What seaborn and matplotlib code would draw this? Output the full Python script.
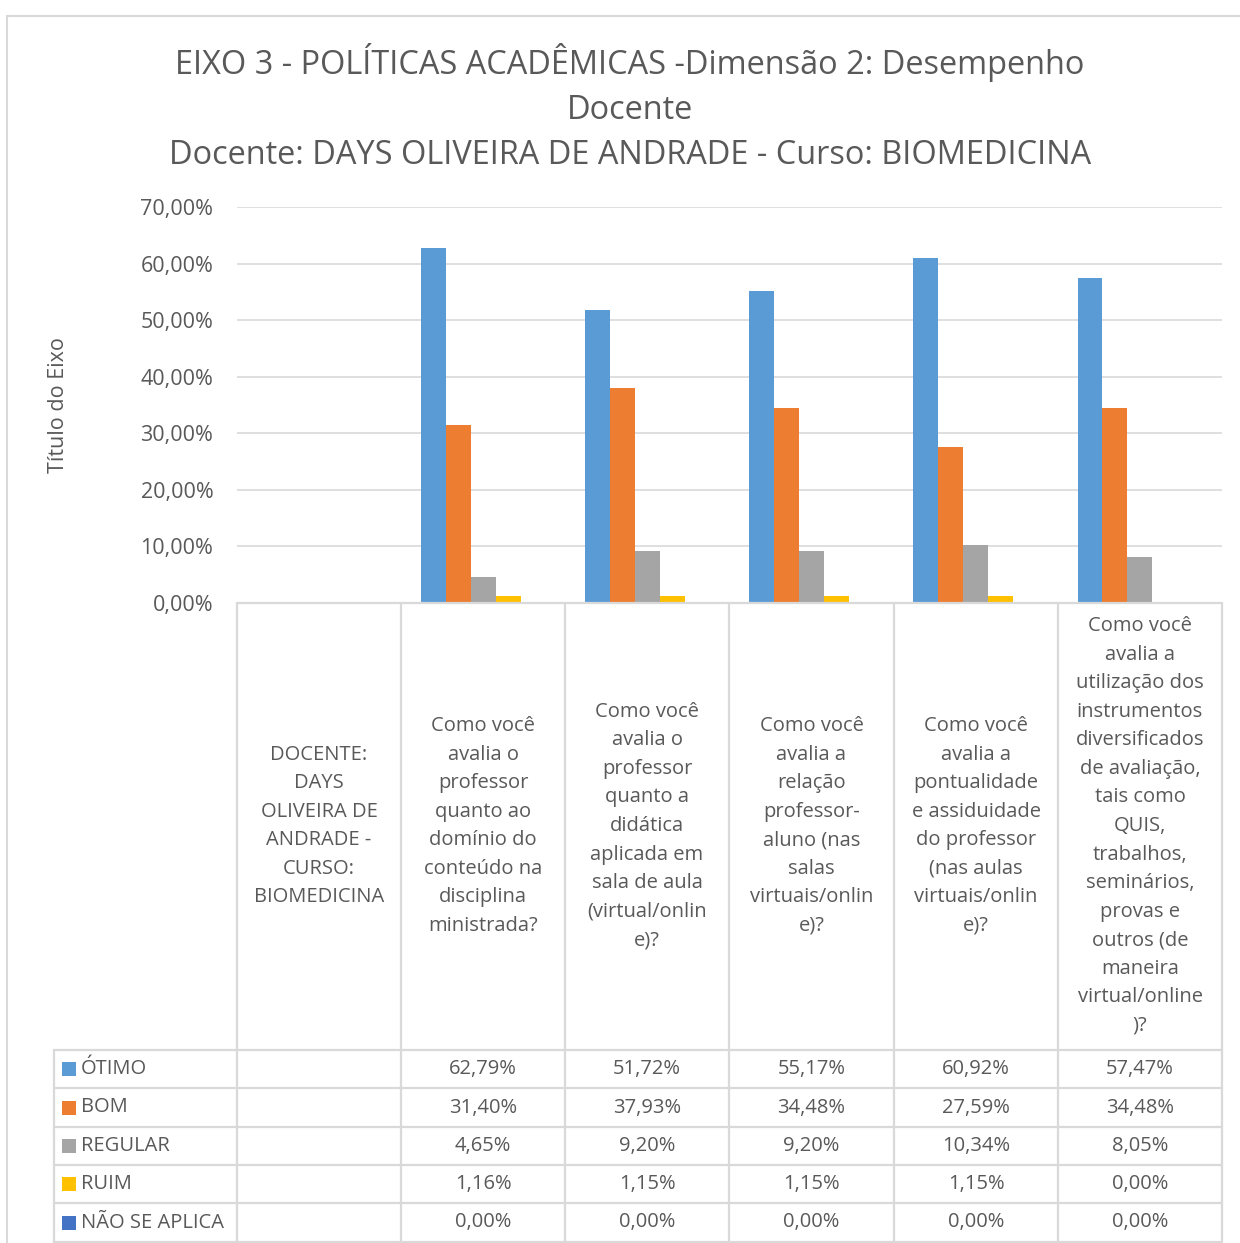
import numpy as np
import pandas as pd
import matplotlib
matplotlib.use("Agg")
import matplotlib.pyplot as plt
from matplotlib.lines import Line2D
from matplotlib.patches import Rectangle
import seaborn as sns

# ---------------- data ----------------
categories = [
    "DOCENTE:\nDAYS\nOLIVEIRA DE\nANDRADE -\nCURSO:\nBIOMEDICINA",
    "Como você\navalia o\nprofessor\nquanto ao\ndomínio do\nconteúdo na\ndisciplina\nministrada?",
    "Como você\navalia o\nprofessor\nquanto a\ndidática\naplicada em\nsala de aula\n(virtual/onlin\ne)?",
    "Como você\navalia a\nrelação\nprofessor-\naluno (nas\nsalas\nvirtuais/onlin\ne)?",
    "Como você\navalia a\npontualidade\ne assiduidade\ndo professor\n(nas aulas\nvirtuais/onlin\ne)?",
    "Como você\navalia a\nutilização dos\ninstrumentos\ndiversificados\nde avaliação,\ntais como\nQUIS,\ntrabalhos,\nseminários,\nprovas e\noutros (de\nmaneira\nvirtual/online\n)?",
]
series = ["ÓTIMO", "BOM", "REGULAR", "RUIM", "NÃO SE APLICA"]
otimo = [np.nan, 62.79, 51.72, 55.17, 60.92, 57.47]
bom = [np.nan, 31.40, 37.93, 34.48, 27.59, 34.48]
regular = [np.nan, 4.65, 9.20, 9.20, 10.34, 8.05]
ruim = [np.nan, 1.16, 1.15, 1.15, 1.15, 0.00]
nao_se_aplica = [np.nan, 0.00, 0.00, 0.00, 0.00, 0.00]
colors = ["#5B9BD5", "#ED7D31", "#A5A5A5", "#FFC000", "#4472C4"]
yticks = [0, 10, 20, 30, 40, 50, 60, 70]

title_lines = ["EIXO 3 - POLÍTICAS ACADÊMICAS -Dimensão 2: Desempenho",
               "Docente",
               "Docente: DAYS OLIVEIRA DE ANDRADE - Curso: BIOMEDICINA"]
ylabel = "Título do Eixo"

values = [otimo, bom, regular, ruim, nao_se_aplica]
keys = [f"c{i}" for i in range(len(categories))]
rows = []
for s, vals in zip(series, values):
    for k, v in zip(keys, vals):
        rows.append({"cat": k, "serie": s, "val": v / 100})
df = pd.DataFrame(rows)

# ---------------- layout ----------------
W, H = 1240, 1243
FONT = ["Open Sans", "DejaVu Sans"]
TXT = "#595959"
GRID = "#D9D9D9"
sns.set_theme(style="white")
plt.rcParams["font.family"] = FONT

fig = plt.figure(figsize=(W / 100, H / 100), dpi=100)

def fx(x):
    return x / W

def fy(y):
    return 1 - y / H

# outer border
fig.add_artist(Rectangle((fx(7), fy(1260)), fx(1250) - fx(7), fy(16) - fy(1260),
                         transform=fig.transFigure, fill=False, edgecolor=GRID, lw=1.5))

left, right, top, bottom = 237, 1222, 207, 603
ax = fig.add_axes([fx(left), fy(bottom), fx(right) - fx(left), fy(top) - fy(bottom)])
sns.barplot(data=df, x="cat", y="val", hue="serie", order=keys, hue_order=series,
            palette=colors, saturation=1, width=0.76, linewidth=0, ax=ax, legend=False,
            errorbar=None)
ax.set_ylim(0, 0.70)
ax.set_yticks([t / 100 for t in yticks])
ax.set_yticklabels([f"{t:.2f}%".replace(".", ",") for t in yticks], color=TXT, fontsize=15.5)
ax.tick_params(axis="y", length=0, pad=17)
ax.set_xticks([])
ax.set_xlabel("")
ax.set_ylabel("")
ax.grid(axis="y", color=GRID, lw=1.2)
ax.set_axisbelow(True)
for sp in ax.spines.values():
    sp.set_visible(False)

fig.text(fx(58), fy(405), ylabel, rotation=90, ha="center", va="center",
         fontsize=15.5, color=TXT)

for t, y in zip(title_lines, [74, 119, 164]):
    fig.text(fx(630), fy(y), t, ha="center", va="baseline", fontsize=23.4, color=TXT)

# ---------------- data table ----------------
colx = [237, 401, 565, 729, 894, 1058, 1222]
rowy = [1050, 1088, 1127, 1165, 1203, 1242]
LW = 1.6

def hline(y, x0, x1):
    fig.add_artist(Line2D([fx(x0), fx(x1)], [fy(y), fy(y)], transform=fig.transFigure,
                          color=GRID, lw=LW))

def vline(x, y0, y1):
    fig.add_artist(Line2D([fx(x), fx(x)], [fy(y0), fy(y1)], transform=fig.transFigure,
                          color=GRID, lw=LW))

hline(603, 237, 1222)
for y in rowy:
    hline(y, 54, 1222)
for x in colx:
    vline(x, 603, 1242)
vline(54, 1050, 1242)

for i, lab in enumerate(categories):
    cx = (colx[i] + colx[i + 1]) / 2
    fig.text(fx(cx), fy(826), lab, ha="center", va="center", fontsize=14.5,
             color=TXT, linespacing=1.57)

for r, (s, vals, c) in enumerate(zip(series, values, colors)):
    cy = (rowy[r] + rowy[r + 1]) / 2
    fig.add_artist(Rectangle((fx(62), fy(cy + 7)), fx(76) - fx(62), fy(cy - 7) - fy(cy + 7),
                             transform=fig.transFigure, facecolor=c, edgecolor="none"))
    fig.text(fx(81), fy(cy), s, ha="left", va="center", fontsize=14.5, color=TXT)
    for i, v in enumerate(vals):
        if np.isnan(v):
            continue
        cx = (colx[i] + colx[i + 1]) / 2
        fig.text(fx(cx), fy(cy), f"{v:.2f}%".replace(".", ","), ha="center", va="center",
                 fontsize=14.5, color=TXT)

fig.savefig("out.png", dpi=100)
